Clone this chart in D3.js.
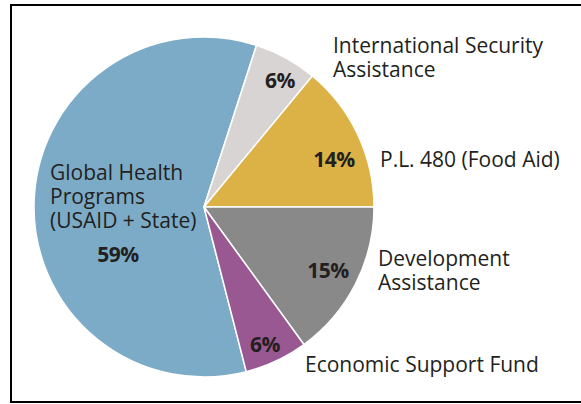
<!DOCTYPE html>
<html>
<head>
<meta charset="utf-8">
<script src="https://cdn.jsdelivr.net/npm/d3@7"></script>
<style>
body{margin:0;background:#fff;}
svg text{font-family:"Open Sans",sans-serif;fill:#231f20;}
.pct{font-weight:700;}
</style>
</head>
<body>
<div id="chart"></div>
<script>
// data
var programs = ["Global Health Programs (USAID + State)","International Security Assistance","P.L. 480 (Food Aid)","Development Assistance","Economic Support Fund"];
var shares = [59, 6, 14, 15, 6];
var colors = ["#7babc7","#d9d4d4","#dcb246","#898989","#9a5892"];

// label lines drawn next to the pie
var nameLines = [
  ["Global Health","Programs","(USAID + State)"],
  ["International Security","Assistance"],
  ["P.L. 480 (Food Aid)"],
  ["Development","Assistance"],
  ["Economic Support Fund"]
];

var w = 581, h = 404;
var cx = 204, cy = 207, r = 170;

var svg = d3.select("#chart").append("svg")
  .attr("width", w)
  .attr("height", h);

// frame
svg.append("rect")
  .attr("x", 11).attr("y", 5)
  .attr("width", 580).attr("height", 397)
  .attr("fill", "none")
  .attr("stroke", "#000")
  .attr("stroke-width", 2);

// pie starts so that P.L. 480 ends at 3 o'clock
var before = d3.sum(shares.slice(0, 3));
var start = Math.PI/2 - before/d3.sum(shares)*2*Math.PI;

var pie = d3.pie().sort(null).value(function(d){return d;})
  .startAngle(start).endAngle(start + 2*Math.PI);
var arc = d3.arc().innerRadius(0).outerRadius(r);

var g = svg.append("g").attr("transform","translate("+cx+","+cy+")");

var arcs = pie(shares);
g.selectAll(".slice")
  .data(arcs)
  .enter()
  .append("path")
  .attr("class","slice")
  .attr("d", arc)
  .style("fill", function(d,i){return colors[i];})
  .style("stroke", "#fff")
  .style("stroke-width", 1.5)
  .style("stroke-linejoin","round");

// percent label spots and name label spots (page coords)
var pctPos = [[118,262],[280,88],[334,167],[328,278],[265,352]];
var namePos = [[50,180],[333,53],[380,167],[378,266],[305,372]];
var lineH = 24;

svg.selectAll(".pct")
  .data(shares)
  .enter()
  .append("text")
  .attr("class","pct")
  .attr("x", function(d,i){return pctPos[i][0];})
  .attr("y", function(d,i){return pctPos[i][1];})
  .attr("text-anchor","middle")
  .style("font-size","21px")
  .style("letter-spacing","-0.5px")
  .text(function(d){return d+"%";});

nameLines.forEach(function(lines,i){
  var t = svg.append("text")
    .attr("class","name")
    .attr("x", namePos[i][0])
    .attr("y", namePos[i][1])
    .style("font-size","21px");
  t.selectAll("tspan")
    .data(lines)
    .enter()
    .append("tspan")
    .attr("x", namePos[i][0])
    .attr("dy", function(d,j){return j==0?0:lineH;})
    .text(String);
});
</script>
</body>
</html>
